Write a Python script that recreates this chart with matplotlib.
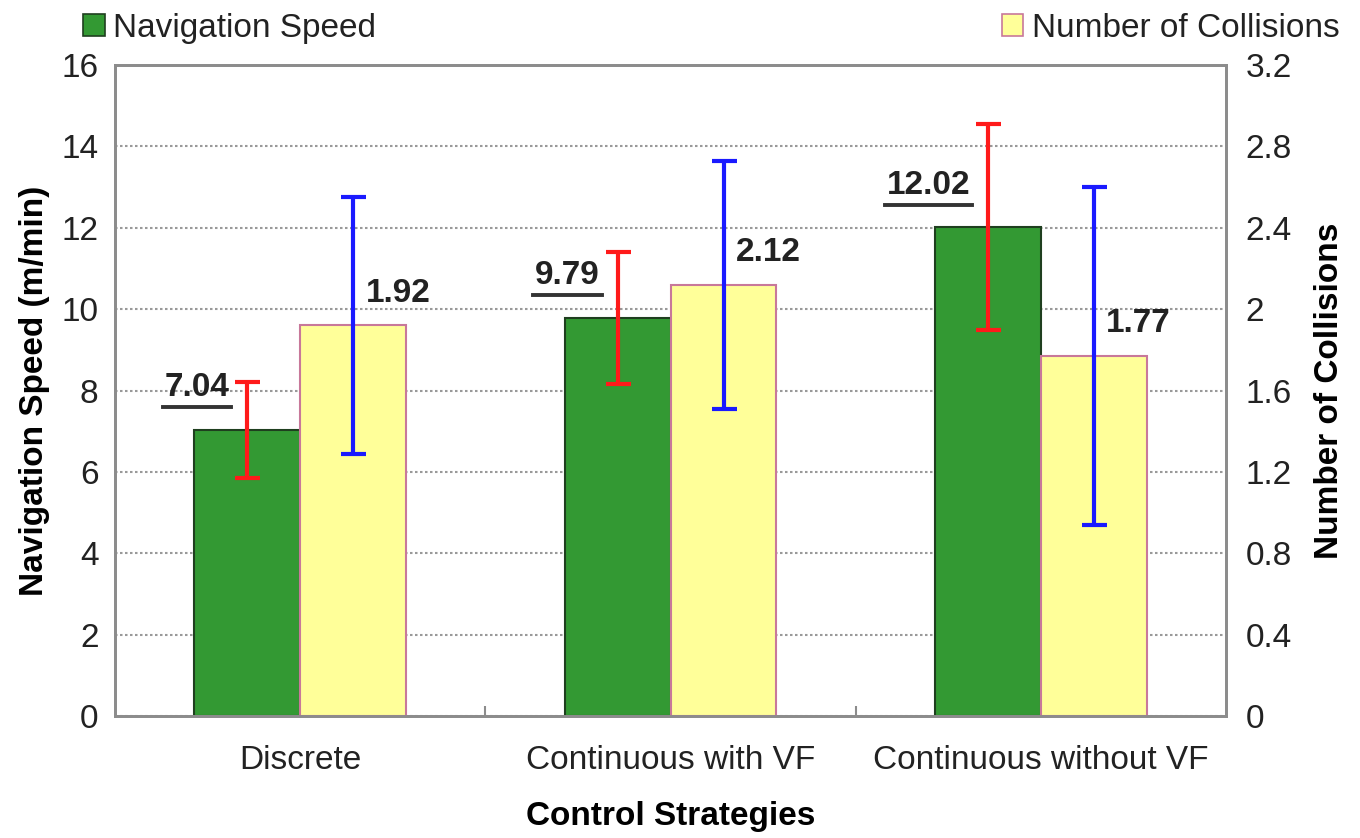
import numpy as np
import matplotlib
matplotlib.use("Agg")
import matplotlib.pyplot as plt
from matplotlib.patches import Patch
from matplotlib.lines import Line2D
from matplotlib.ticker import FormatStrFormatter, FixedLocator

plt.rcParams['font.family'] = ['Liberation Sans', 'DejaVu Sans']
plt.rcParams['text.color'] = '#222222'

# data
categories = ['Discrete', 'Continuous with VF', 'Continuous without VF']
speed = [7.04, 9.79, 12.02]
speed_err = [1.18, 1.62, 2.53]
collisions = [1.92, 2.12, 1.77]
collisions_err = [0.63, 0.61, 0.83]

green = '#339933'
yellow = '#ffff99'
grey = '#8c8c8c'
fs = 24

fig = plt.figure(figsize=(13.6, 8.38), dpi=100)
ax = fig.add_axes([0.0846, 0.1456, 0.8169, 0.7768])
ax2 = ax.twinx()

x = np.arange(len(categories))
w = 0.286

ax.bar(x - w / 2, speed, w, color=green, edgecolor='#1f3f1f', linewidth=1.5, zorder=2)
ax.errorbar(x - w / 2, speed, yerr=speed_err, fmt='none', ecolor='#ff1a1a',
            elinewidth=3, capsize=9, capthick=3, zorder=3)
ax2.bar(x + w / 2, collisions, w, color=yellow, edgecolor='#c8789a', linewidth=1.5, zorder=2)
ax2.errorbar(x + w / 2, collisions, yerr=collisions_err, fmt='none', ecolor='#1a1aff',
             elinewidth=3, capsize=9, capthick=3, zorder=3)

ax.set_xlim(-0.5, 2.5)
ax.set_ylim(0, 16)
ax2.set_ylim(0, 3.2)
ax.set_yticks(np.arange(0, 17, 2))
ax2.set_yticks(np.arange(0, 3.21, 0.4))
ax2.yaxis.set_major_formatter(FormatStrFormatter('%g'))
ax.set_xticks(x)
ax.set_xticklabels(categories)
ax.xaxis.set_minor_locator(FixedLocator([0.5, 1.5]))

ax.yaxis.grid(True, linestyle=(0, (1.2, 1.2)), color='#999999', linewidth=1.5, zorder=0)
ax.set_axisbelow(True)

ax.tick_params(axis='y', length=0, pad=12, labelsize=fs, labelcolor='#222222')
ax2.tick_params(axis='y', length=0, pad=14, labelsize=fs, labelcolor='#222222')
ax.tick_params(axis='x', which='major', length=0, pad=21, labelsize=fs, labelcolor='#222222')
ax.tick_params(axis='x', which='minor', direction='in', length=7, width=1.5, color=grey)

for a in (ax, ax2):
    for s in a.spines.values():
        s.set_color(grey)
        s.set_linewidth(2)

ax.set_ylabel('Navigation Speed (m/min)', fontsize=fs, fontweight='bold', labelpad=8)
ax2.set_ylabel('Number of Collisions', fontsize=fs, fontweight='bold', labelpad=16)
ax.set_xlabel('Control Strategies', fontsize=fs, fontweight='bold', labelpad=18)

# value labels
speed_texts = []
for xi, v in zip(x, speed):
    t = ax.annotate(f'{v:.2f}', (xi - w + 0.095, v), xytext=(0, 24), textcoords='offset points',
                    ha='right', va='baseline', fontsize=fs, fontweight='bold')
    speed_texts.append(t)
for xi, v in zip(x, collisions):
    ax2.annotate(f'{v:.2f}', (xi + w / 2 + 0.033, v), xytext=(0, 17), textcoords='offset points',
                 ha='left', va='baseline', fontsize=fs, fontweight='bold')

# underline speed labels
fig.canvas.draw()
r = fig.canvas.get_renderer()
W = fig.dpi * fig.get_figwidth()
H = fig.dpi * fig.get_figheight()
for t in speed_texts:
    bb = t.get_window_extent(r)
    y0 = bb.y0 - 4
    fig.add_artist(Line2D([(bb.x0 - 2) / W, (bb.x1 + 2) / W], [y0 / H] * 2,
                          transform=fig.transFigure, color='#333333', lw=2.8))

# legends
h1 = [Patch(facecolor=green, edgecolor='#1f3f1f', linewidth=1.2)]
h2 = [Patch(facecolor=yellow, edgecolor='#c8789a', linewidth=1.2)]
fig.legend(h1, ['Navigation Speed'], loc='center left', bbox_to_anchor=(0.049, 0.966),
           frameon=False, fontsize=fs, handlelength=0.65, handleheight=0.65,
           handletextpad=0.25, borderpad=0)
fig.legend(h2, ['Number of Collisions'], loc='center right', bbox_to_anchor=(0.997, 0.966),
           frameon=False, fontsize=fs, handlelength=0.65, handleheight=0.65,
           handletextpad=0.25, borderpad=0)

fig.savefig('out.png', dpi=100)
